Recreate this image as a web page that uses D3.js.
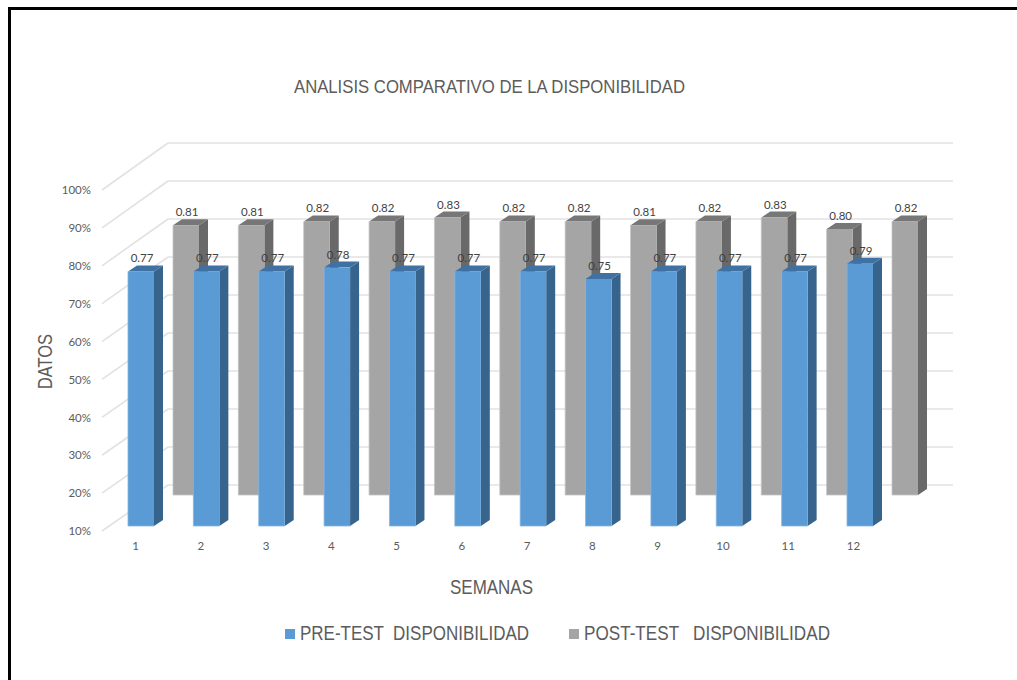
<!DOCTYPE html>
<html>
<head>
<meta charset="utf-8">
<script src="https://cdn.jsdelivr.net/npm/d3@7"></script>
<style>
html,body{margin:0;padding:0;background:#fff;overflow:hidden}
svg{display:block}
text{opacity:.98}
</style>
</head>
<body>
<svg id="chart" width="1017" height="680"></svg>
<script>
// Weekly availability, before and after the intervention
const weeks = [1,2,3,4,5,6,7,8,9,10,11,12];
const preTest = [0.77,0.77,0.77,0.78,0.77,0.77,0.77,0.75,0.77,0.77,0.77,0.79];
const postTest = [0.81,0.81,0.82,0.82,0.83,0.82,0.82,0.81,0.82,0.83,0.80,0.82];
const percentTicks = [0.1,0.2,0.3,0.4,0.5,0.6,0.7,0.8,0.9,1];
const titleText = "ANALISIS COMPARATIVO DE LA DISPONIBILIDAD";
const xTitle = "SEMANAS";
const yTitle = "DATOS";
const legendLabels = ["PRE-TEST  DISPONIBILIDAD","POST-TEST   DISPONIBILIDAD"];

const svg = d3.select("#chart");
const LABEL_FONT = "Lato, 'Noto Sans', sans-serif";
const HEAD_FONT = "'Liberation Sans', Arial, sans-serif";
const INK = "#595959";

// Scales for the front wall edge, back wall, and both bar rows
const wallFront = d3.scaleLinear().domain([0.1,1]).range([531,190]);
const wallBack = d3.scaleLinear().domain([0.1,1]).range([485,143]);
const preY = d3.scaleLinear().domain([0.1,1]).range([526,184]);
const postY = d3.scaleLinear().domain([0.1,1]).range([495,153]);
const preX = d3.scaleLinear().domain([1,12]).range([128,847]);
const postX = d3.scaleLinear().domain([1,12]).range([173,892]);
const catX = d3.scaleLinear().domain([1,12]).range([135,853]);
const barW = 26, depthX = 9, depthY = 6;

// Outer frame
const frame = svg.append("g").attr("stroke","#000").attr("stroke-width",3).attr("fill","none");
frame.append("path").attr("d","M9.5,680V8.5H1017");

// Walls: left-side diagonals and back horizontals
const grid = svg.append("g").attr("stroke","#e2e2e2").attr("stroke-width",1.6).attr("fill","none");
grid.selectAll(".back").data(percentTicks).join("line")
  .attr("x1",168).attr("x2",953)
  .attr("y1",d=>wallBack(d)).attr("y2",d=>wallBack(d));
grid.selectAll(".side").data(percentTicks).join("line")
  .attr("x1",102).attr("x2",168)
  .attr("y1",d=>wallFront(d)).attr("y2",d=>wallBack(d));

// One extruded column: side and top faces behind the front face
function drawBars(values, x, y, colors, edge){
  const g = svg.append("g");
  const base = y.domain()[0];
  values.forEach((v,i)=>{
    const x0 = x(weeks[i]), x1 = x0+barW, yt = y(v), yb = y(base);
    g.append("path").attr("fill",colors.side)
      .attr("d",`M${x1},${yt}L${x1+depthX},${yt-depthY}L${x1+depthX},${yb-depthY}L${x1},${yb}Z`);
    g.append("path").attr("fill",colors.top)
      .attr("d",`M${x0},${yt}L${x0+depthX},${yt-depthY}L${x1+depthX},${yt-depthY}L${x1},${yt}Z`);
    g.append("rect").attr("x",x0).attr("y",yt).attr("width",barW).attr("height",yb-yt)
      .attr("fill",colors.front);
    if(edge){
      g.append("path").attr("fill","none").attr("stroke",edge).attr("stroke-width",0.8)
        .attr("d",`M${x0},${yt}V${yb}H${x1}`);
    }
  });
}
drawBars(postTest, postX, postY, {front:"#a5a5a5",side:"#696969",top:"#777777"}, "#c4c4c4");
drawBars(preTest, preX, preY, {front:"#5b9bd5",side:"#37648c",top:"#3f72a3"}, "#86b6e2");

// Value labels sit above every column
function drawLabels(values, x, y){
  svg.append("g").selectAll("text").data(values).join("text")
    .attr("x",(d,i)=>x(weeks[i])+barW/2+1)
    .attr("y",d=>y(d)-9)
    .attr("text-anchor","middle")
    .attr("font-family",LABEL_FONT).attr("font-size",11.5).attr("fill","#404040")
    .text(d=>d.toFixed(2));
}
drawLabels(postTest, postX, postY);
drawLabels(preTest, preX, preY);

// Axes
const yAxis = d3.axisLeft(wallFront).tickValues(percentTicks).tickFormat(d3.format(".0%")).tickSize(0).tickPadding(0);
const yG = svg.append("g").attr("transform","translate(91,0)").call(yAxis);
yG.select(".domain").remove();
yG.selectAll("text").attr("font-family",LABEL_FONT).attr("font-size",11.5).attr("fill",INK);

const xAxis = d3.axisBottom(catX).tickValues(weeks).tickFormat(d3.format("d")).tickSize(0).tickPadding(0);
const xG = svg.append("g").attr("transform","translate(0,542)").call(xAxis);
xG.select(".domain").remove();
xG.selectAll("text").attr("font-family",LABEL_FONT).attr("font-size",11.5).attr("fill",INK);

// Titles, squeezed to their drawn widths
function fitted(sel, len){
  return sel.attr("textLength",len).attr("lengthAdjust","spacingAndGlyphs")
    .attr("font-family",HEAD_FONT).attr("fill",INK).style("white-space","pre");
}
fitted(svg.append("text").attr("x",294).attr("y",93).attr("font-size",19).text(titleText),391);
fitted(svg.append("text").attr("x",450).attr("y",594).attr("font-size",20).text(xTitle),83);
fitted(svg.append("text").attr("transform","translate(52,389) rotate(-90)").attr("font-size",20).text(yTitle),55);

// Legend
const legendItems = [
  {label:legendLabels[0],color:"#5b9bd5",box:285,text:300,len:229},
  {label:legendLabels[1],color:"#a5a5a5",box:569,text:584,len:246}
];
legendItems.forEach(it=>{
  svg.append("rect").attr("x",it.box).attr("y",629).attr("width",10).attr("height",10).attr("fill",it.color);
  fitted(svg.append("text").attr("x",it.text).attr("y",640).attr("font-size",20).text(it.label),it.len);
});
</script>
</body>
</html>
